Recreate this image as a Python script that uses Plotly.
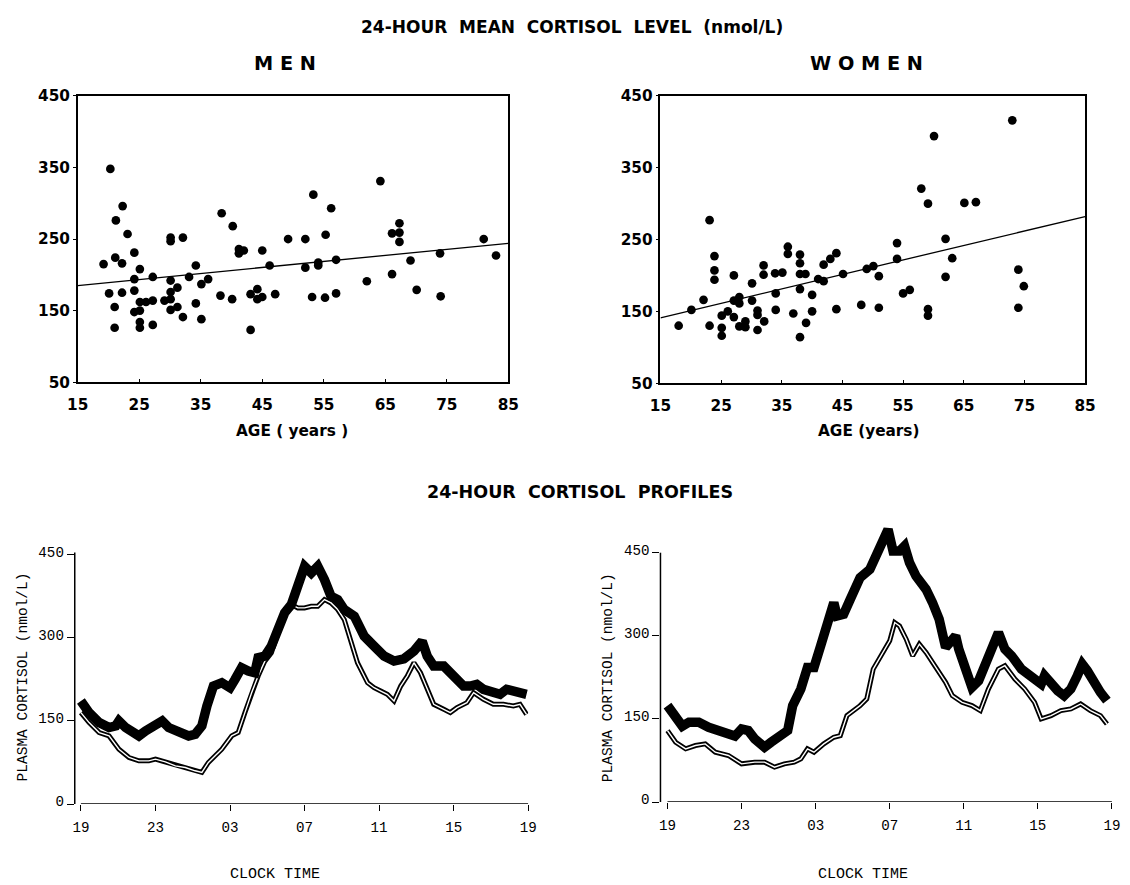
import plotly.graph_objects as go

# ---------------- data ----------------
men_age = [19.2, 20.3, 20.1, 21, 21, 21.2, 21.1, 22.2, 22.2, 22.3, 23.1, 24.2, 24.2, 24.2, 24.2,
           25.1, 25.1, 25.1, 25.1, 25.1, 26.1, 27.2, 27.2, 27.2, 29.1, 30.1, 30.1, 30.1, 30.1, 30.1,
           30.1, 31.2, 31.2, 32.1, 32.1, 33.1, 34.2, 34.2, 35.1, 35.1, 36.2, 38.2, 38.4, 40.1, 40.2,
           41.2, 41.2, 42.0, 43.1, 43.1, 44.2, 44.2, 45, 45, 46.2, 47.1, 49.2, 52.0, 52.0, 53.1,
           53.3, 54.1, 54.1, 55.2, 55.3, 56.2, 57.0, 57.0, 62.0, 64.2, 66.1, 66.1, 67.3, 67.3, 67.3,
           69.1, 70.1, 73.9, 74.0, 81, 83]
men_cortisol = [215, 348, 174, 155, 126, 276, 224, 216, 175, 296, 257, 231, 194, 178, 148,
                208, 162, 150, 134, 126, 162, 197, 164, 130, 164, 252, 247, 192, 176, 166,
                151, 182, 155, 252, 141, 197, 213, 160, 187, 138, 194, 171, 286, 166, 268,
                236, 230, 234, 173, 123, 180, 166, 234, 169, 213, 173, 250, 250, 210, 169,
                312, 217, 213, 168, 256, 293, 221, 174, 191, 331, 201, 258, 272, 259, 246,
                220, 179, 230, 170, 250, 227]
men_fit_age = [15, 85]
men_fit_val = [185, 244]

women_age = [18.0, 20.1, 22.1, 23.1, 23.1, 23.9, 23.9, 23.9, 25.1, 25.1, 25.1, 26.1, 27.1, 27.1, 27.1,
             28.0, 28.0, 28.0, 29.0, 29.0, 30.1, 30.1, 31.0, 31.0, 31.0, 32.0, 32.0, 32.1, 33.9, 34.0,
             34.0, 35.1, 36.0, 36.0, 36.9, 38.0, 38.0, 38.0, 38.0, 38.0, 38.9, 39.0, 40.0, 40.0, 41.0,
             41.9, 41.9, 43.0, 44.0, 44.0, 45.1, 48.1, 49.0, 50.1, 51.0, 51.0, 54.0, 54.0, 55.0, 56.1,
             58.0, 59.1, 59.1, 59.1, 60.1, 62.0, 62.0, 63.1, 65.1, 67.0, 73.0, 74.0, 74.0, 74.9]
women_cortisol = [130, 152, 166, 277, 130, 227, 207, 194, 144, 127, 116, 150, 200, 165, 142,
                  170, 161, 129, 136, 128, 189, 165, 151, 145, 124, 214, 201, 136, 203, 175,
                  152, 204, 240, 230, 147, 229, 217, 202, 181, 114, 202, 134, 173, 150, 195,
                  215, 192, 223, 231, 153, 202, 159, 209, 213, 199, 155, 245, 223, 175, 180,
                  321, 300, 153, 144, 394, 251, 198, 224, 301, 302, 416, 208, 155, 185]
women_fit_age = [15, 85]
women_fit_val = [141, 282]

time_ticks = [0, 4, 8, 12, 16, 20, 24]
time_labels = ["19", "23", "03", "07", "11", "15", "19"]

men_thick_h = [0, 0.44, 0.98, 1.51, 1.87, 2.04, 2.4, 3.11, 3.47, 4, 4.36, 4.71, 5.24, 5.78, 6.13, 6.49,
               6.76, 7.11, 7.56, 8, 8.27, 8.62, 8.98, 9.33, 9.51, 9.87, 10.22, 10.58, 10.93, 11.29,
               11.64, 12, 12.36, 12.71, 13.07, 13.42, 13.78, 14.13, 14.67, 15.2, 15.73, 16.27, 16.8,
               17.33, 17.87, 18.31, 18.58, 18.93, 19.47, 20, 20.53, 20.89, 21.24, 21.6, 22.13, 22.49,
               22.84, 23.2, 23.56, 23.91]
men_thick_v = [186, 165, 147, 138, 141, 150, 138, 123, 132, 144, 150, 138, 130, 123, 126, 141,
               177, 213, 219, 210, 225, 246, 240, 237, 264, 267, 285, 321, 345, 360,
               396, 429, 417, 429, 405, 375, 369, 351, 339, 303, 285, 267, 258,
               262, 276, 294, 267, 249, 249, 231, 213, 213, 216, 207, 204, 198,
               207, 204, 201, 198]
men_thin_h = [0, 0.44, 0.98, 1.51, 2.04, 2.58, 3.11, 3.64, 4, 4.53, 5.07, 5.6, 6.13, 6.49, 6.84, 7.2,
              7.56, 8.09, 8.44, 8.8, 9.16, 9.51, 9.87, 10.22, 10.58, 10.93, 11.29, 11.64, 12, 12.36,
              12.71, 13.07, 13.42, 13.78, 14.13, 14.49, 14.84, 15.38, 15.73, 16.09, 16.44, 16.8,
              17.16, 17.51, 17.87, 18.22, 18.58, 18.93, 19.47, 19.82, 20.18, 20.71, 21.07, 21.6,
              22.13, 22.67, 23.2, 23.56, 23.91]
men_thin_v = [165, 147, 129, 123, 99, 84, 78, 78, 81, 76, 69, 66, 60, 57, 75, 87,
              99, 123, 129, 165, 201, 231, 258, 273, 309, 345, 360, 354, 354, 357,
              357, 369, 363, 351, 333, 291, 255, 219, 210, 204, 198, 186,
              213, 231, 255, 237, 207, 180, 171, 165, 174, 183, 201, 189,
              180, 180, 177, 180, 162]

women_thick_h = [0, 0.44, 0.8, 1.16, 1.69, 2.22, 2.76, 3.29, 3.64, 4, 4.36, 4.71, 5.24, 5.6, 6.13, 6.49,
                 6.76, 7.2, 7.56, 7.91, 8.27, 8.62, 8.98, 9.16, 9.51, 9.87, 10.4, 10.93, 11.29, 11.64,
                 11.91, 12.18, 12.53, 12.8, 13.07, 13.42, 13.96, 14.31, 14.67, 15.02, 15.38, 15.56,
                 15.73, 16.09, 16.44, 16.8, 17.16, 17.51, 17.87, 18.22, 18.58, 19.11, 19.64, 20.18,
                 20.36, 20.71, 21.07, 21.42, 21.78, 22.13, 22.4, 22.67, 23.02, 23.38, 23.73]
women_thick_v = [174, 150, 137, 144, 144, 135, 129, 121, 119, 132, 129, 114, 99, 108, 121, 129,
                 174, 204, 243, 243, 282, 324, 360, 336, 339, 366, 405, 420, 450, 474,
                 492, 453, 453, 462, 432, 408, 384, 360, 330, 279, 294, 300,
                 276, 246, 207, 219, 246, 282, 306, 276, 264, 240, 225, 213,
                 228, 213, 201, 192, 204, 228, 249, 237, 216, 198, 183]
women_thin_h = [0, 0.44, 0.98, 1.51, 2.04, 2.58, 3.29, 4, 4.71, 5.24, 5.78, 6.31, 6.84, 7.2, 7.56, 7.91,
                8.44, 8.98, 9.33, 9.69, 10.4, 10.76, 11.11, 11.64, 12, 12.27, 12.53, 12.89, 13.24, 13.6,
                13.96, 14.49, 15.02, 15.38, 15.91, 16.44, 16.89, 17.33, 17.87, 18.22, 18.76, 19.29,
                19.82, 20.18, 20.71, 21.24, 21.78, 22.31, 22.84, 23.38, 23.73]
women_thin_v = [129, 108, 96, 102, 105, 90, 84, 69, 72, 72, 63, 69, 72, 78, 96, 90,
                105, 117, 120, 156, 174, 186, 240, 270, 291, 324, 318, 294, 264, 285,
                270, 243, 216, 192, 180, 174, 165, 204, 240, 246, 222, 204,
                180, 150, 156, 165, 168, 177, 165, 156, 141]

# ---------------- figure ----------------
W, H = 1130, 885
# the page is shown with an 8 px body margin and then fitted to the window,
# so reference pixel positions are converted to figure pixels here
KX, KY, OFF = 1146 / 1130, 901 / 885, 8


def px(x):
    return (x * KX - OFF) / W


def py(y):
    return 1 - (y * KY - OFF) / H


BOLD = "DejaVu Sans, Verdana, sans-serif"
MONO = "Liberation Mono, Courier New, monospace"

fig = go.Figure()

# scatter panels
for i, (ages, vals, fa, fv) in enumerate([(men_age, men_cortisol, men_fit_age, men_fit_val),
                                          (women_age, women_cortisol, women_fit_age, women_fit_val)]):
    ax = "" if i == 0 else "2"
    fig.add_trace(go.Scatter(x=fa, y=fv, mode="lines", line=dict(color="black", width=1.3),
                             xaxis="x" + ax, yaxis="y" + ax, showlegend=False, hoverinfo="skip"))
    fig.add_trace(go.Scatter(x=ages, y=vals, mode="markers",
                             marker=dict(color="black", size=8.7, line=dict(width=0)),
                             xaxis="x" + ax, yaxis="y" + ax, showlegend=False))

# profile panels
for i, (th, tv, nh, nv) in enumerate([(men_thick_h, men_thick_v, men_thin_h, men_thin_v),
                                      (women_thick_h, women_thick_v, women_thin_h, women_thin_v)]):
    ax = "3" if i == 0 else "4"
    fig.add_trace(go.Scatter(x=nh, y=nv, mode="lines", line=dict(color="black", width=5),
                             xaxis="x" + ax, yaxis="y" + ax, showlegend=False))
    fig.add_trace(go.Scatter(x=nh, y=nv, mode="lines", line=dict(color="white", width=1.4),
                             xaxis="x" + ax, yaxis="y" + ax, showlegend=False, hoverinfo="skip"))
    fig.add_trace(go.Scatter(x=th, y=tv, mode="lines", line=dict(color="black", width=9.5),
                             xaxis="x" + ax, yaxis="y" + ax, showlegend=False))

scat_font = dict(family=BOLD, size=15.3, color="black", weight="bold")
scat_x = dict(range=[15, 85], tickvals=[15, 25, 35, 45, 55, 65, 75, 85], showgrid=False, zeroline=False,
              showline=True, linecolor="black", linewidth=1.5, mirror=True, ticks="inside", ticklen=3,
              tickcolor="black", tickfont=scat_font, ticklabelstandoff=8)
scat_y = dict(range=[50, 450], tickvals=[50, 150, 250, 350, 450], showgrid=False, zeroline=False,
              showline=True, linecolor="black", linewidth=1.5, mirror=True, ticks="outside", ticklen=3,
              tickcolor="black", tickfont=scat_font)

prof_font = dict(family=MONO, size=14.2, color="black")
prof_x = dict(range=[-0.33, 24], tickvals=time_ticks, ticktext=time_labels, showgrid=False, zeroline=False,
              showline=False, ticks="outside", ticklen=6, tickcolor="black", tickfont=prof_font,
              ticklabelstandoff=4)
prof_y = dict(range=[0, 500], tickvals=[0, 150, 300, 450], showgrid=False, zeroline=False,
              showline=False, ticks="outside", ticklen=7, tickcolor="black", tickwidth=1.3,
              tickfont=prof_font, ticklabelshift=-3)


def top_for(zero_y, y450):
    # reference pixel position of 500 on an axis where 0 and 450 sit at the given pixels
    return y450 - (zero_y - y450) * 50 / 450


fig.update_layout(
    width=W, height=H, margin=dict(l=0, r=0, t=0, b=0, pad=0),
    paper_bgcolor="white", plot_bgcolor="white", showlegend=False,
    xaxis=dict(scat_x, domain=[px(75), px(508)], anchor="y"),
    yaxis=dict(scat_y, domain=[py(382), py(95)], anchor="x"),
    xaxis2=dict(scat_x, domain=[px(661), px(1088)], anchor="y2"),
    yaxis2=dict(scat_y, domain=[py(383), py(95)], anchor="x2"),
    xaxis3=dict(prof_x, domain=[px(72), px(528)], anchor="y3"),
    yaxis3=dict(prof_y, domain=[py(805), py(top_for(805, 555))], anchor="x3"),
    xaxis4=dict(prof_x, range=[-0.38, 24], domain=[px(661), px(1115)], anchor="y4"),
    yaxis4=dict(prof_y, domain=[py(803), py(top_for(803, 553))], anchor="x4"),
)

# axis lines for the profile panels
for ax, ytop in [("3", 454), ("4", 450)]:
    fig.add_shape(type="line", xref="x" + ax, yref="y" + ax, x0=0, x1=24, y0=0, y1=0,
                  line=dict(color="black", width=1.5))
    fig.add_shape(type="line", xref="x" + ax + " domain", yref="y" + ax, x0=0, x1=0, y0=0, y1=ytop,
                  line=dict(color="black", width=1.5))


def ann(text, x, y, size, family=BOLD, angle=0):
    fig.add_annotation(text=text, x=px(x), y=py(y), xref="paper", yref="paper", showarrow=False,
                       font=dict(family=family, size=size, color="black"), textangle=angle,
                       xanchor="center", yanchor="middle")


ann("<b>24-HOUR  MEAN  CORTISOL  LEVEL  (nmol/L)</b>", 572, 26, 17)
ann("<b>M E N</b>", 283, 63, 19.3)
ann("<b>W O M E N</b>", 868, 63, 19.3)
ann("<b>AGE ( years )</b>", 290, 431, 15.3)
ann("<b>AGE (years)</b>", 870, 431, 15.3)
ann("<b>24-HOUR  CORTISOL  PROFILES</b>", 580, 492, 17.5)
ann("CLOCK TIME", 273, 876, 15, MONO)
ann("CLOCK TIME", 865, 876, 15, MONO)
ann("PLASMA CORTISOL (nmol/L)", 20, 678, 14.5, MONO, -90)
ann("PLASMA CORTISOL (nmol/L)", 609, 678, 14.5, MONO, -90)

fig.write_html("out.html")
